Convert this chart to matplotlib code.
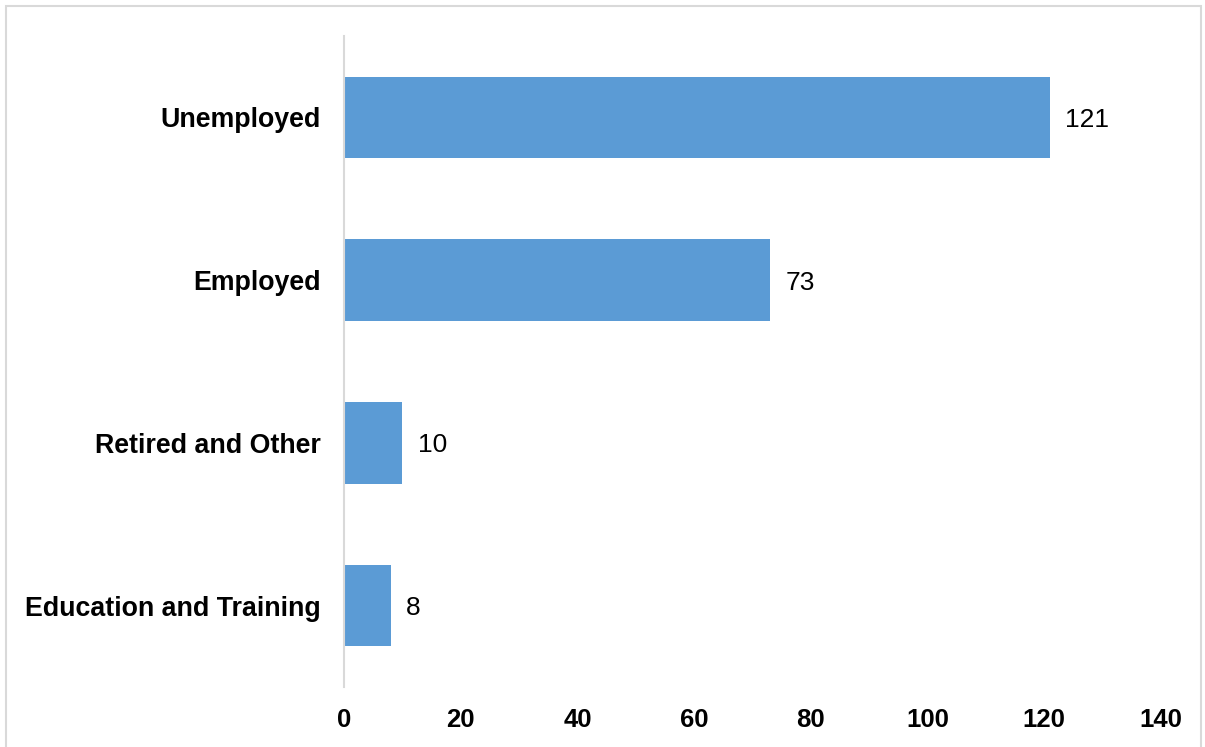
import matplotlib
matplotlib.use("Agg")
import matplotlib.pyplot as plt
from matplotlib.patches import Rectangle

categories = ["Education and Training", "Retired and Other", "Employed", "Unemployed"]
values = [8, 10, 73, 121]
xticks = [0, 20, 40, 60, 80, 100, 120, 140]

plt.rcParams['font.family'] = ['Liberation Sans', 'DejaVu Sans']

fig = plt.figure(figsize=(12.05, 7.47), dpi=100)
fig.patches.append(Rectangle((6/1205, -0.01), 1195/1205, 1 - 6/747 + 0.01,
                             transform=fig.transFigure, fill=False,
                             edgecolor='#D9D9D9', linewidth=1.5))
ax = fig.add_axes([344/1205, 1 - 687/747, 817/1205, 651/747])
pos = list(range(len(categories)))
ax.barh(pos, values, height=0.5, color='#5B9BD5')
for p, v in zip(pos, values):
    ax.text(v + 2.6, p, str(v), va='center_baseline', ha='left', fontsize=19, color='black')
ax.set_xlim(0, 140)
ax.set_ylim(-0.5, 3.5)
ax.set_yticks(pos)
ax.set_yticklabels(categories, fontsize=19.3, fontweight='bold')
ax.set_xticks(xticks)
ax.set_xticklabels([str(t) for t in xticks], fontsize=18.5, fontweight='bold')
for s in ['top', 'right', 'bottom']:
    ax.spines[s].set_visible(False)
ax.spines['left'].set_color('#D9D9D9')
ax.spines['left'].set_linewidth(1.5)
ax.tick_params(axis='both', length=0)
ax.tick_params(axis='y', pad=17)
ax.tick_params(axis='x', pad=15)
fig.savefig('out.png', dpi=100)
